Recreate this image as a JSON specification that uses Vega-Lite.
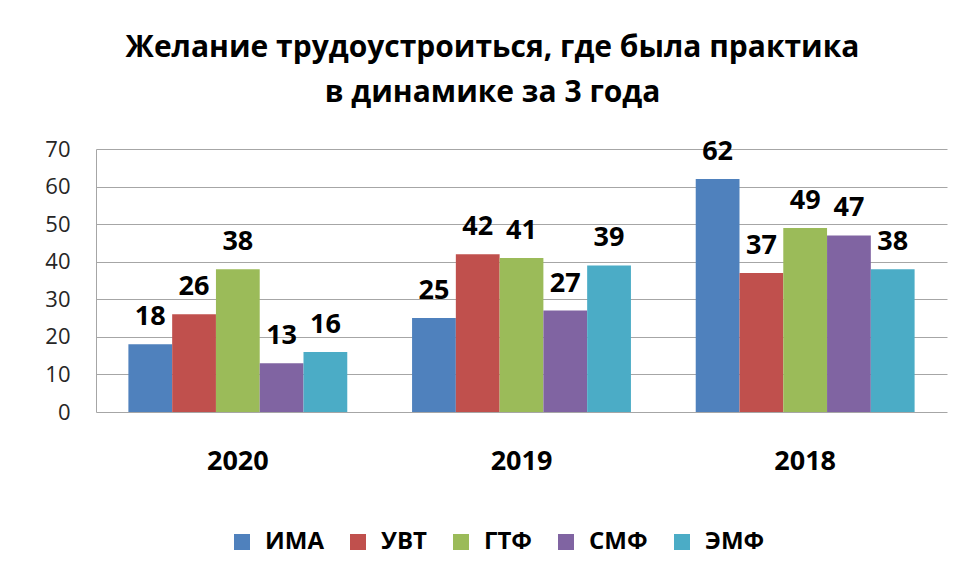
{
  "$schema": "https://vega.github.io/schema/vega-lite/v6.json",
  "autosize": {"type": "none"},
  "width": 851,
  "height": 263,
  "padding": {"left": 96, "top": 149, "right": 21, "bottom": 164},
  "background": "white",
  "title": {
    "text": ["Желание трудоустроиться, где была практика", "в динамике за 3 года"],
    "font": "Open Sans",
    "fontSize": 30,
    "fontWeight": "bold",
    "color": "#000000",
    "anchor": "middle",
    "dx": -29,
    "offset": 30,
    "lineHeight": 45
  },
  "data": {
    "values": [
      {"year": "2020", "faculty": "ИМА", "value": 18},
      {"year": "2020", "faculty": "УВТ", "value": 26},
      {"year": "2020", "faculty": "ГТФ", "value": 38},
      {"year": "2020", "faculty": "СМФ", "value": 13},
      {"year": "2020", "faculty": "ЭМФ", "value": 16},
      {"year": "2019", "faculty": "ИМА", "value": 25},
      {"year": "2019", "faculty": "УВТ", "value": 42},
      {"year": "2019", "faculty": "ГТФ", "value": 41},
      {"year": "2019", "faculty": "СМФ", "value": 27},
      {"year": "2019", "faculty": "ЭМФ", "value": 39},
      {"year": "2018", "faculty": "ИМА", "value": 62},
      {"year": "2018", "faculty": "УВТ", "value": 37},
      {"year": "2018", "faculty": "ГТФ", "value": 49},
      {"year": "2018", "faculty": "СМФ", "value": 47},
      {"year": "2018", "faculty": "ЭМФ", "value": 38}
    ]
  },
  "encoding": {
    "x": {
      "field": "year",
      "type": "nominal",
      "sort": ["2020", "2019", "2018"],
      "scale": {"paddingInner": 0, "paddingOuter": 0},
      "axis": {
        "title": null,
        "labelAngle": 0,
        "ticks": false,
        "domain": false,
        "labelFont": "Open Sans",
        "labelFontSize": 27,
        "labelFontWeight": "bold",
        "labelColor": "#000000",
        "labelPadding": 36
      }
    },
    "xOffset": {
      "field": "faculty",
      "type": "nominal",
      "sort": ["ИМА", "УВТ", "ГТФ", "СМФ", "ЭМФ"],
      "scale": {"paddingInner": 0, "paddingOuter": 0.74}
    },
    "y": {
      "field": "value",
      "type": "quantitative",
      "scale": {"domain": [0, 70], "nice": false},
      "axis": {
        "title": null,
        "values": [0, 10, 20, 30, 40, 50, 60, 70],
        "ticks": false,
        "domain": true,
        "domainColor": "#a6a6a6",
        "gridColor": "#a6a6a6",
        "labelFont": "Open Sans",
        "labelFontSize": 22,
        "labelColor": "#262626",
        "labelPadding": 26
      }
    }
  },
  "layer": [
    {
      "mark": {"type": "bar"},
      "encoding": {
        "color": {
          "field": "faculty",
          "type": "nominal",
          "sort": ["ИМА", "УВТ", "ГТФ", "СМФ", "ЭМФ"],
          "scale": {
            "domain": ["ИМА", "УВТ", "ГТФ", "СМФ", "ЭМФ"],
            "range": ["#4F81BD", "#C0504D", "#9BBB59", "#8064A2", "#4BACC6"]
          },
          "legend": {
            "title": null,
            "orient": "none",
            "direction": "horizontal",
            "legendX": 134,
            "legendY": 381,
            "symbolType": "square",
            "symbolSize": 256,
            "symbolStrokeWidth": 0,
            "labelFont": "Open Sans",
            "labelFontSize": 24,
            "labelFontWeight": "bold",
            "labelColor": "#000000",
            "labelOffset": 11,
            "columnPadding": 22
          }
        }
      }
    },
    {
      "mark": {
        "type": "text",
        "baseline": "alphabetic",
        "dy": -19,
        "font": "Open Sans",
        "fontSize": 27,
        "fontWeight": "bold",
        "color": "#000000"
      },
      "encoding": {
        "text": {"field": "value", "type": "quantitative"}
      }
    }
  ],
  "config": {
    "view": {"stroke": null}
  }
}
